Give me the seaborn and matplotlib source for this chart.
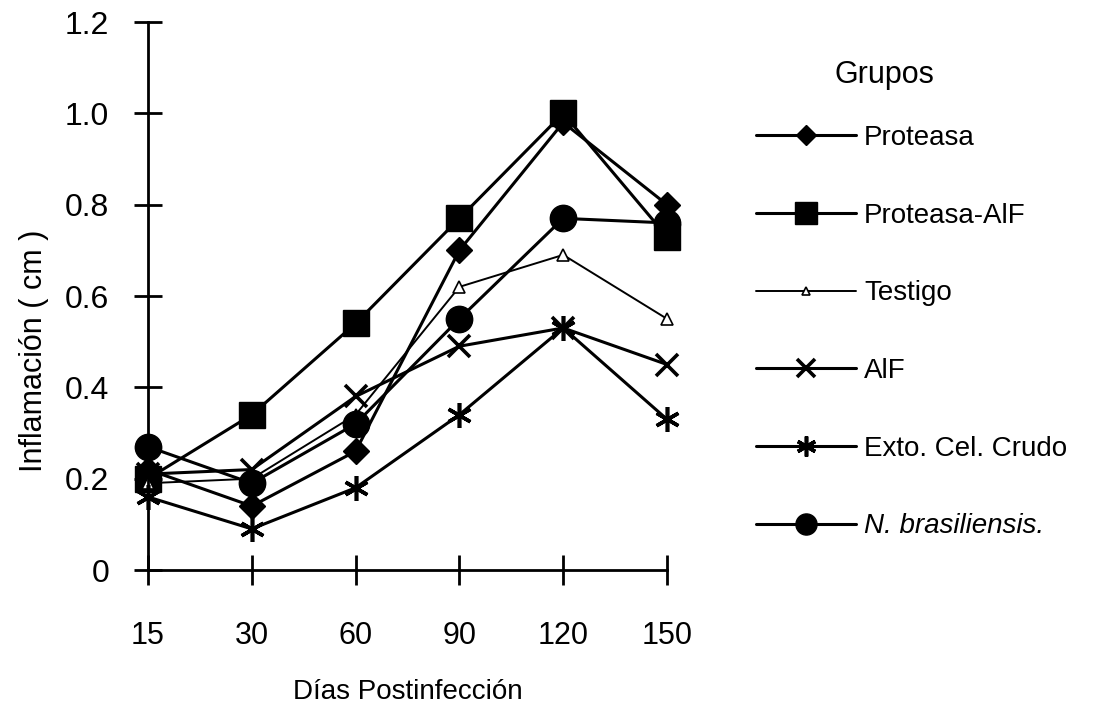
import matplotlib
matplotlib.use("Agg")
import matplotlib.pyplot as plt
import seaborn as sns
import pandas as pd
from matplotlib.lines import Line2D

# Days post-infection (categorical x axis)
dias = ["15", "30", "60", "90", "120", "150"]

# Inflammation (cm) per group
proteasa = [0.22, 0.14, 0.26, 0.70, 0.98, 0.80]
proteasa_aif = [0.20, 0.34, 0.54, 0.77, 1.00, 0.73]
testigo = [0.19, 0.20, 0.34, 0.62, 0.69, 0.55]
aif = [0.21, 0.22, 0.38, 0.49, 0.53, 0.45]
exto_cel = [0.16, 0.09, 0.18, 0.34, 0.53, 0.33]
n_brasiliensis = [0.27, 0.19, 0.32, 0.55, 0.77, 0.76]

grupos = ["Proteasa", "Proteasa-AlF", "Testigo", "AlF",
          "Exto. Cel. Crudo", "N. brasiliensis."]
valores = [proteasa, proteasa_aif, testigo, aif, exto_cel, n_brasiliensis]

sns.set_theme(style="white")
plt.rcParams["font.family"] = ["Liberation Sans", "DejaVu Sans"]
plt.rcParams["text.color"] = "black"

# marker styles per group
estilos = {
    "Proteasa": dict(marker="D", markersize=13, lw=2.2),
    "Proteasa-AlF": dict(marker="s", markersize=19, lw=2.2),
    "Testigo": dict(marker="^", markersize=8, lw=1.4, mfc="white", mew=1.2),
    "AlF": dict(marker="x", markersize=16, lw=2.2, mew=2.6),
    "Exto. Cel. Crudo": dict(marker=(6, 2, 0), markersize=18, lw=2.2, mew=2.6),
    "N. brasiliensis.": dict(marker="o", markersize=19, lw=2.2),
}

fig = plt.figure(figsize=(11.03, 7.07), dpi=100)
ax = fig.add_axes([148 / 1103, 1 - 570 / 707, (667 - 148) / 1103, (570 - 22) / 707])

handles = []
for g, v in zip(grupos, valores):
    df = pd.DataFrame({"dia": dias, "inflamacion": v})
    st = estilos[g]
    sns.lineplot(data=df, x="dia", y="inflamacion", ax=ax, color="black",
                 marker=st["marker"], markersize=st["markersize"],
                 linewidth=st["lw"], markerfacecolor=st.get("mfc", "black"),
                 markeredgecolor="black", markeredgewidth=st.get("mew", 1.0),
                 sort=False, legend=False, clip_on=False)
    handles.append(Line2D([], [], color="black", marker=st["marker"],
                          markersize=st["markersize"] * 0.8, linewidth=st["lw"],
                          markerfacecolor=st.get("mfc", "black"),
                          markeredgecolor="black",
                          markeredgewidth=st.get("mew", 1.0)))

ax.set_xlim(0, len(dias) - 1)
ax.set_ylim(0, 1.2)
ax.set_yticks([0, 0.2, 0.4, 0.6, 0.8, 1.0, 1.2])
ax.set_yticklabels(["0", "0.2", "0.4", "0.6", "0.8", "1.0", "1.2"])
for s in ["top", "right"]:
    ax.spines[s].set_visible(False)
for s in ["left", "bottom"]:
    ax.spines[s].set_color("black")
    ax.spines[s].set_linewidth(2)
ax.tick_params(axis="y", left=True, direction="inout", length=20, width=2,
               labelsize=23, pad=18, colors="black")
ax.tick_params(axis="x", bottom=True, direction="inout", length=22, width=2,
               labelsize=22, pad=26, colors="black")
ax.set_xlabel("Días Postinfección", fontsize=20, labelpad=20, color="black")
ax.set_ylabel("Inflamación ( cm )", fontsize=22, color="black")
ax.yaxis.set_label_coords(-0.19, 0.40)

leg = fig.legend(handles, grupos, loc="upper left",
                 bbox_to_anchor=(742 / 1103, 1 - 111 / 707),
                 frameon=False, fontsize=20, handlelength=3.6,
                 handletextpad=0.3, labelspacing=1.86, borderpad=0)
for t in leg.get_texts():
    t.set_color("black")
leg.get_texts()[-1].set_style("italic")
fig.text(884 / 1103, 1 - 75 / 707, "Grupos", fontsize=22, ha="center",
         va="center", color="black")

fig.savefig("out.png", dpi=100, facecolor="white")
